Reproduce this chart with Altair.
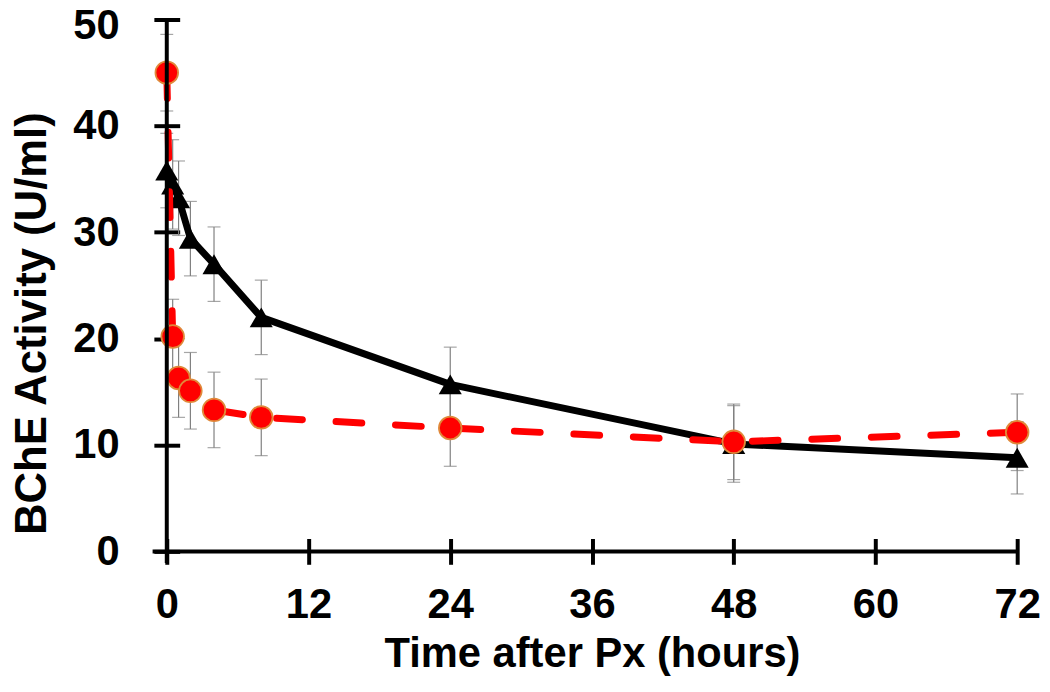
import altair as alt
import pandas as pd

# ---- data ----
times = [0, 0.5, 1, 2, 4, 8, 24, 48, 72]
black_vals = [35.8, 34.5, 33.2, 29.4, 27.0, 22.0, 15.7, 10.1, 8.8]
black_err = [3.5, 4.2, 3.5, 3.5, 3.5, 3.5, 3.5, 3.6, 3.4]
red_vals = [45.0, 20.2, 16.3, 15.1, 13.3, 12.6, 11.6, 10.3, 11.2]
red_err = [3.6, 3.5, 3.7, 3.6, 3.55, 3.6, 3.6, 3.55, 3.6]
x_ticks = [0, 12, 24, 36, 48, 60, 72]
y_ticks = [0, 10, 20, 30, 40, 50]

black_df = pd.DataFrame({
    "t": times, "v": black_vals,
    "lo": [v - e for v, e in zip(black_vals, black_err)],
    "hi": [v + e for v, e in zip(black_vals, black_err)],
})
red_df = pd.DataFrame({
    "t": times, "v": red_vals,
    "lo": [v - e for v, e in zip(red_vals, red_err)],
    "hi": [v + e for v, e in zip(red_vals, red_err)],
})

FONT = "Liberation Sans"
XTITLE = "Time after Px (hours)"
YTITLE = "BChE Activity (U/ml)"

xscale = alt.Scale(domain=[0, 72], nice=False, zero=False)
yscale = alt.Scale(domain=[0, 50], nice=False)

xaxis = alt.Axis(
    values=x_ticks, title=XTITLE, grid=False, domain=False,
    offset=-13, tickSize=26, tickWidth=4, tickColor="black",
    labelFont=FONT, labelFontSize=42, labelFontWeight="bold", labelColor="black",
    labelPadding=21, titleFont=FONT, titleFontSize=42, titleFontWeight="bold",
    titleColor="black", titlePadding=8, labelFlush=False,
)
yaxis = alt.Axis(
    values=y_ticks, title=YTITLE, grid=False, domain=False,
    offset=-13, tickSize=26, tickWidth=4, tickColor="black",
    labelFont=FONT, labelFontSize=42, labelFontWeight="bold", labelColor="black",
    labelPadding=35,
    labelOffset={"condition": {"test": "datum.value == 50", "value": 6}, "value": 0},
    titleFont=FONT, titleFontSize=44, titleFontWeight="bold",
    titleColor="black", titlePadding=18, titleY=306, labelFlush=False,
)

X = alt.X("t:Q", scale=xscale, axis=xaxis, title=XTITLE)
Y = alt.Y("v:Q", scale=yscale, axis=yaxis, title=YTITLE)
Ylo = alt.Y("lo:Q", scale=yscale, axis=yaxis, title=YTITLE)

err_b = alt.Chart(black_df).mark_errorbar(
    ticks=True, size=13, thickness=1.2, color="#808080"
).encode(x=X, y=Ylo, y2="hi:Q")
err_r = alt.Chart(red_df).mark_errorbar(
    ticks=True, size=13, thickness=1.2, color="#808080"
).encode(x=X, y=Ylo, y2="hi:Q")

y_domain = alt.Chart(pd.DataFrame({"a": [0]})).mark_rule(
    color="black", strokeWidth=4
).encode(x=alt.datum(0), y=alt.datum(-1.1), y2=alt.datum(50))
x_domain = alt.Chart(pd.DataFrame({"a": [0]})).mark_rule(
    color="black", strokeWidth=4
).encode(y=alt.datum(0), x=alt.datum(-1.2), x2=alt.datum(72))

black_line = alt.Chart(black_df).mark_line(
    color="black", strokeWidth=7, strokeJoin="round"
).encode(x=X, y=Y)
black_pts = alt.Chart(black_df).mark_point(
    shape="triangle-up", filled=True, size=540, color="black", opacity=1
).encode(x=X, y=Y)

red_line = alt.Chart(red_df).mark_line(
    color="#FF0000", strokeWidth=7, strokeDash=[26, 34], strokeCap="round"
).encode(x=X, y=Y)
red_pts = alt.Chart(red_df).mark_point(
    shape="circle", filled=True, size=520, fill="#FF0000", stroke="#E0893A",
    strokeWidth=1.8, opacity=1
).encode(x=X, y=Y)

chart = alt.layer(
    err_b, err_r, black_line, black_pts, red_line, red_pts, y_domain, x_domain
).properties(
    width=857, height=536,
    autosize=alt.AutoSizeParams(type="none"),
    padding={"left": 160, "top": 9, "right": 25, "bottom": 126},
).configure_view(stroke=None)

chart.save("out.html", embed_options={"renderer": "svg", "actions": False})
